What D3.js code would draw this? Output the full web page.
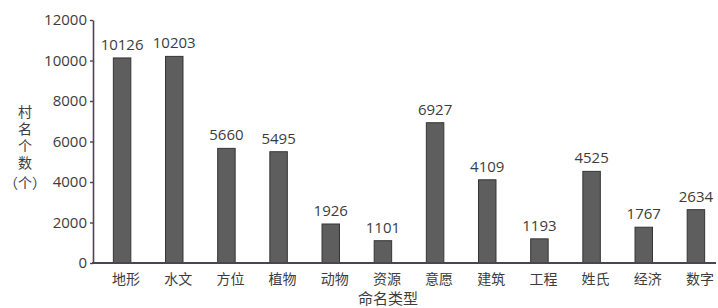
<!DOCTYPE html>
<meta charset="utf-8">
<head>
  <script src="https://d3js.org/d3.v7.min.js"></script>
  <style>
    body { margin: 0; background: #fff; }
    svg { display: block; font-family: "Open Sans", "Noto Sans CJK SC", sans-serif; }
  </style>
</head>
<body>
<div id="chart"></div>
<script>
// categories and values
var categories = ["地形", "水文", "方位", "植物", "动物", "资源", "意愿", "建筑", "工程", "姓氏", "经济", "数字"];
var counts = [10126, 10203, 5660, 5495, 1926, 1101, 6927, 4109, 1193, 4525, 1767, 2634];
var yTicks = [0, 2000, 4000, 6000, 8000, 10000, 12000];

var data = categories.map(function(c, i) { return {name: c, value: counts[i]}; });

var W = 718, H = 308;
var svg = d3.select("#chart").append("svg")
  .attr("width", W)
  .attr("height", H);

var axisColor = "#4b4452",
    textColor = "#3c3c3c";

var y = d3.scaleLinear()
  .domain([0, 12000])
  .range([263, 20]);

var x = d3.scaleBand()
  .domain(categories)
  .range([96, 722])
  .paddingInner(0.665)
  .paddingOuter(0.3325);

// y axis
var yAxis = svg.append("g")
  .attr("transform", "translate(93,0)")
  .call(d3.axisLeft(y).tickValues(yTicks).tickFormat(d3.format("d"))
    .tickSize(3).tickSizeOuter(0).tickPadding(3));
yAxis.select(".domain").attr("stroke", axisColor).attr("stroke-width", 1.6);
yAxis.selectAll(".tick line").attr("stroke", axisColor).attr("stroke-width", 1.4);
yAxis.selectAll("text")
  .attr("fill", textColor)
  .style("font-size", "15px")
  .style("font-family", "'Open Sans', sans-serif");

// x axis
var xAxis = svg.append("g")
  .attr("transform", "translate(0,263)")
  .call(d3.axisBottom(x).tickSize(0).tickPadding(11));
xAxis.select(".domain").remove();
xAxis.selectAll("text")
  .attr("fill", textColor)
  .attr("dx", "4px")
  .style("font-size", "14px")
  .style("font-family", "'Noto Sans CJK SC', sans-serif");

// bars
svg.selectAll("rect.bar")
  .data(data)
  .enter()
  .append("rect")
  .attr("class", "bar")
  .attr("x", function(d) { return x(d.name); })
  .attr("y", function(d) { return y(d.value); })
  .attr("width", x.bandwidth())
  .attr("height", function(d) { return y(0) - y(d.value); })
  .attr("fill", "#5e5e5e")
  .attr("stroke", "#353535")
  .attr("stroke-width", 1);

// baseline drawn over the bars
svg.append("line")
  .attr("x1", 92).attr("x2", 716)
  .attr("y1", y(0)).attr("y2", y(0))
  .attr("stroke", axisColor)
  .attr("stroke-width", 1.8);

// value labels
svg.selectAll("text.val")
  .data(data)
  .enter()
  .append("text")
  .attr("class", "val")
  .attr("x", function(d) { return x(d.name) + x.bandwidth() / 2; })
  .attr("y", function(d) { return y(d.value) - 8; })
  .attr("text-anchor", "middle")
  .attr("fill", textColor)
  .style("font-size", "15px")
  .text(function(d) { return d.value; });

// y title, vertical
svg.append("text")
  .attr("x", 25)
  .attr("y", 105)
  .attr("fill", textColor)
  .style("writing-mode", "vertical-rl")
  .style("letter-spacing", "3px")
  .style("font-size", "14px")
  .style("font-family", "'Noto Sans CJK SC', sans-serif")
  .text("村名个数");
svg.append("text")
  .attr("x", 25)
  .attr("y", 188)
  .attr("text-anchor", "middle")
  .attr("fill", textColor)
  .style("font-size", "14px")
  .style("font-family", "'Noto Sans CJK SC', sans-serif")
  .text("（个）");

// x title
svg.append("text")
  .attr("x", 388)
  .attr("y", 304)
  .attr("text-anchor", "middle")
  .attr("fill", textColor)
  .style("font-size", "15px")
  .style("font-family", "'Noto Sans CJK SC', sans-serif")
  .text("命名类型");
</script>
</body>
